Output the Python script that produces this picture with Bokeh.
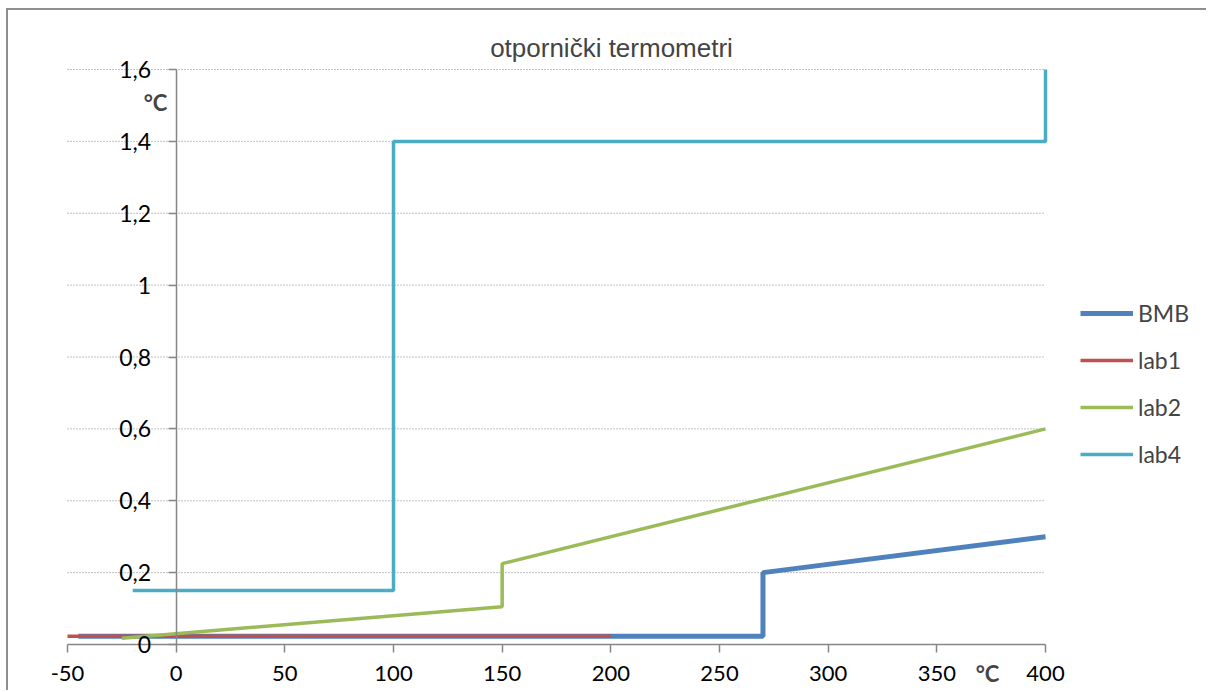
from bokeh.plotting import figure
from bokeh.models import (Range1d, FixedTicker, CustomJSTickFormatter, Legend,
                          LegendItem, Label)
from bokeh.embed import file_html
from bokeh.resources import INLINE

# ---- data ----
bmb_x = [-45, 270, 270, 400]
bmb_y = [0.023, 0.023, 0.2, 0.3]
lab1_x = [-50, 200]
lab1_y = [0.023, 0.023]
lab2_x = [-25, 150, 150, 400]
lab2_y = [0.0175, 0.105, 0.225, 0.6]
lab4_x = [-20, 100, 100, 400, 400]
lab4_y = [0.15, 0.15, 1.4, 1.4, 1.6]
x_ticks = [-50, 0, 50, 100, 150, 200, 250, 300, 350, 400]
y_ticks = [0, 0.2, 0.4, 0.6, 0.8, 1.0, 1.2, 1.4, 1.6]
series_names = ["BMB", "lab1", "lab2", "lab4"]
chart_title = "otpornički termometri"
unit = "°C"

FONT = "Lato"
AX = "#868686"

# canvas: 1200 x 682, frame fills the canvas; ranges chosen so that the
# plotting area (-50..400, 0..1.6) sits where the reference draws it.
W, H = 1200, 682
PX_X = 978 / 450.0
PX_Y = 575 / 1.6
x0 = -50 - 59 / PX_X
x1 = x0 + W / PX_X
y1 = 1.6 + 59 / PX_Y
y0 = y1 - H / PX_Y

p = figure(width=W, height=H, min_border=0,
           x_range=Range1d(x0, x1), y_range=Range1d(y0, y1),
           output_backend="svg", toolbar_location=None)
p.styles = {"margin-left": "6px", "margin-top": "8px",
            "border-left": "2px solid #8f8f8f", "border-top": "2px solid #8f8f8f"}
p.outline_line_color = None
p.background_fill_color = "white"
p.border_fill_color = "white"
p.xgrid.visible = False
p.ygrid.visible = False

# dotted horizontal grid over the plotting area
g_ticks = y_ticks[1:]
p.segment(x0=[x_ticks[0]] * len(g_ticks), y0=g_ticks,
          x1=[x_ticks[-1]] * len(g_ticks), y1=g_ticks,
          line_color=AX, line_dash="1 2", line_width=1)

# axes crossing at 0
for ax in (p.xaxis[0], p.yaxis[0]):
    ax.fixed_location = 0
    ax.axis_line_color = AX
    ax.axis_line_width = 1.5
    ax.major_tick_line_color = AX
    ax.major_tick_line_width = 1.5
    ax.major_tick_out = 8
    ax.major_tick_in = 0
    ax.minor_tick_line_color = None
    ax.major_label_text_font = FONT
    ax.major_label_text_color = "black"

p.xaxis.ticker = FixedTicker(ticks=x_ticks)
p.xaxis.bounds = (x_ticks[0], x_ticks[-1])
p.xaxis.major_label_standoff = 13
p.xaxis.major_label_text_font_size = "22px"
p.xaxis.formatter = CustomJSTickFormatter(code="return String(Math.round(tick))")
p.yaxis.ticker = FixedTicker(ticks=y_ticks)
p.yaxis.bounds = (y_ticks[0], y_ticks[-1])
p.yaxis.major_label_standoff = 17
p.yaxis.major_label_text_font_size = "23px"
p.yaxis.formatter = CustomJSTickFormatter(
    code="return (Math.round(tick*10)/10).toString().replace('.', ',')")

# series
colors = ["#4f81bd", "#c0504d", "#9bbb59", "#4bacc6"]
widths = [5, 3.5, 3.5, 3.5]
xs = [bmb_x, lab1_x, lab2_x, lab4_x]
ys = [bmb_y, lab1_y, lab2_y, lab4_y]
renderers = []
for x, y, c, w in zip(xs, ys, colors, widths):
    renderers.append(p.line(x, y, line_color=c, line_width=w))

legend = Legend(items=[LegendItem(label=n, renderers=[r]) for n, r in zip(series_names, renderers)],
                location=(1072, 224), orientation="vertical",
                glyph_width=53, glyph_height=20, label_height=20,
                label_standoff=5, spacing=19, padding=0, margin=0,
                label_text_font=FONT, label_text_font_size="23px",
                border_line_color=None, background_fill_alpha=0)
p.add_layout(legend, "center")

# texts
p.add_layout(Label(x=603, y=645, x_units="screen", y_units="screen", text=chart_title,
                   text_font="Liberation Sans", text_font_size="26px",
                   text_align="center", text_baseline="middle"))
p.add_layout(Label(x=147, y=590, x_units="screen", y_units="screen", text=unit,
                   text_font=FONT, text_font_size="22px", text_font_style="bold",
                   text_align="center", text_baseline="middle"))
p.add_layout(Label(x=979, y=19, x_units="screen", y_units="screen", text=unit,
                   text_font=FONT, text_font_size="22px", text_font_style="bold",
                   text_align="center", text_baseline="middle"))

open("out.html", "w").write(file_html(p, INLINE))
